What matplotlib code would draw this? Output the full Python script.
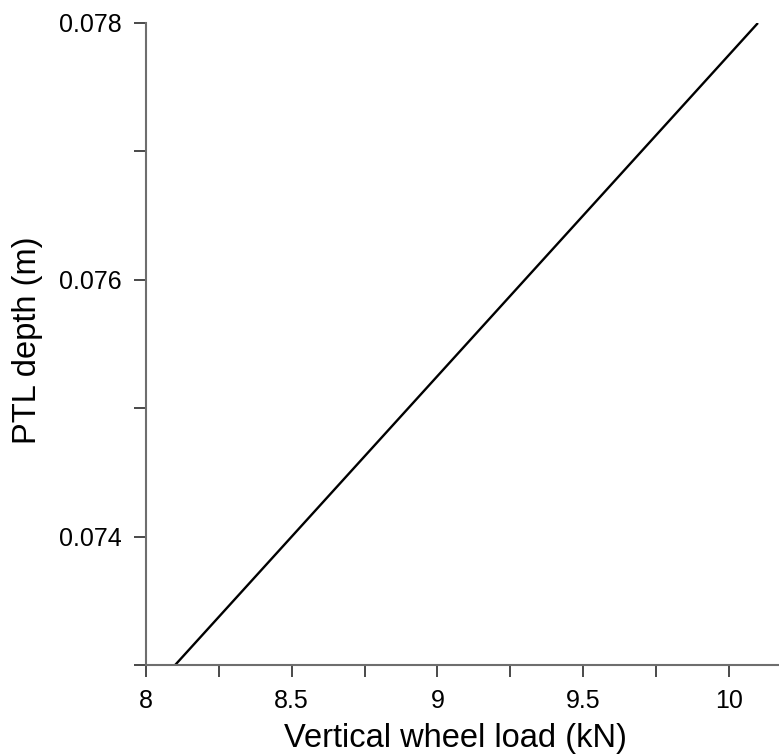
import matplotlib
matplotlib.use("Agg")
import matplotlib.pyplot as plt
from matplotlib.ticker import FixedLocator

plt.rcParams['font.family'] = ['Liberation Sans', 'DejaVu Sans']

# PTL depth as a function of vertical wheel load
load_kn = [8.1, 10.1]
ptl_depth_m = [0.073, 0.078]

x_major = [8, 8.5, 9, 9.5, 10]
x_major_labels = ["8", "8.5", "9", "9.5", "10"]
x_minor = [8.25, 8.75, 9.25, 9.75]
y_major = [0.074, 0.076, 0.078]
y_major_labels = ["0.074", "0.076", "0.078"]
y_minor = [0.073, 0.075, 0.077]

W, H = 779, 755
fig = plt.figure(figsize=(W / 100, H / 100), dpi=100)
left, right, top, bottom = 146, 779, 23, 665
ax = fig.add_axes([left / W, 1 - bottom / H, (right - left) / W, (bottom - top) / H])

ax.plot(load_kn, ptl_depth_m, color="black", lw=1.7, solid_capstyle="butt")

ax.set_xlim(8, 8 + (right - left) / 291.4)
ax.set_ylim(0.073, 0.078)

ax.xaxis.set_major_locator(FixedLocator(x_major))
ax.xaxis.set_minor_locator(FixedLocator(x_minor))
ax.yaxis.set_major_locator(FixedLocator(y_major))
ax.yaxis.set_minor_locator(FixedLocator(y_minor))
ax.set_xticklabels(x_major_labels)
ax.set_yticklabels(y_major_labels)

for side in ("top", "right"):
    ax.spines[side].set_visible(False)
for side in ("left", "bottom"):
    ax.spines[side].set_color("#6e6e6e")
    ax.spines[side].set_linewidth(1.5)

ax.tick_params(axis="both", which="both", direction="out", length=8.3,
               width=1.3, color="#3a3a3a")
ax.tick_params(axis="x", which="major", labelsize=18, pad=9)
ax.tick_params(axis="y", which="major", labelsize=18, pad=9)

ax.set_xlabel("Vertical wheel load (kN)", fontsize=23.5, va="baseline")
ax.xaxis.set_label_coords((455.5 - left) / (right - left), (bottom - 747) / (bottom - top))
ax.set_ylabel("PTL depth (m)", fontsize=23.5, va="center", ha="center")
ax.yaxis.set_label_coords((28 - left) / (right - left), (bottom - 340) / (bottom - top))

fig.savefig("out.png", dpi=100)
